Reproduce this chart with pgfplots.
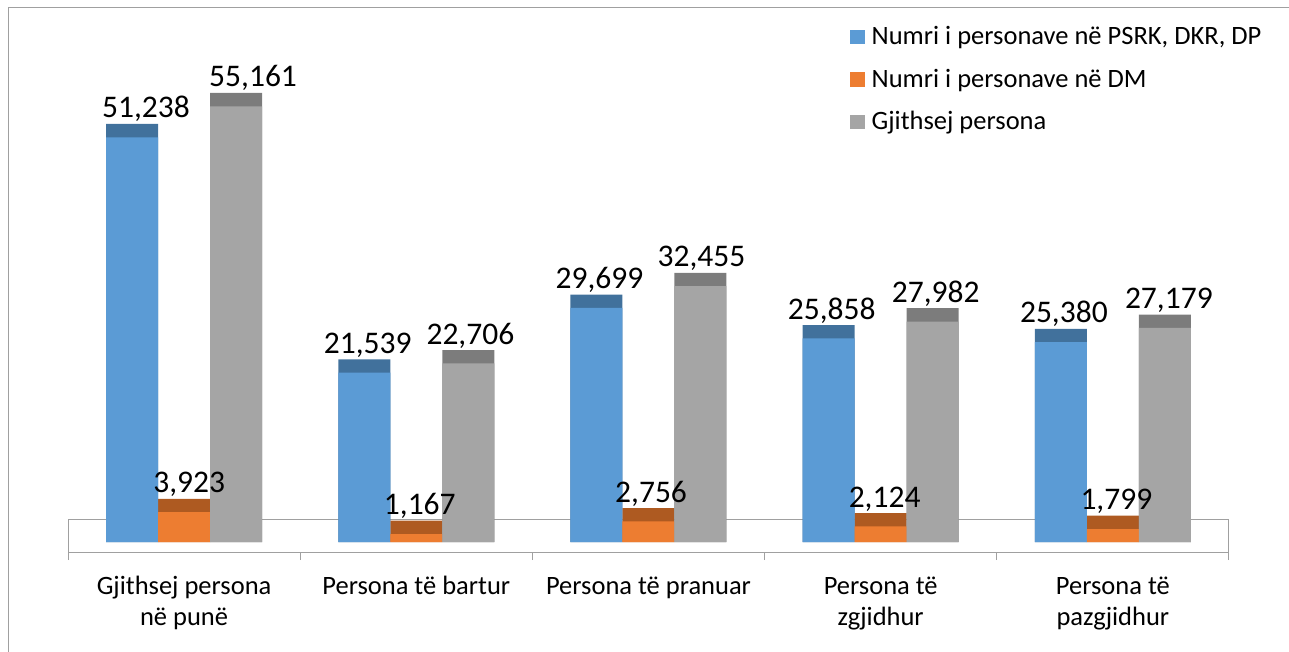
\documentclass[border=0pt]{standalone}
\usepackage{fontspec}
\setmainfont{Carlito}
\usepackage{pgfplots}
\pgfplotsset{compat=1.18}
\usepackage{pgfplotstable}

\definecolor{cblue}{HTML}{5B9BD5}
\definecolor{cbluedk}{HTML}{41719C}
\definecolor{corange}{HTML}{ED7D31}
\definecolor{corangedk}{HTML}{AE5A21}
\definecolor{cgray}{HTML}{A5A5A5}
\definecolor{cgraydk}{HTML}{7C7C7C}
\definecolor{linegray}{HTML}{A0A0A0}

\newcommand{\valfont}{\fontsize{31.5}{36}\selectfont}
\newcommand{\catfont}{\fontsize{26.5}{30.5}\selectfont}

% v = value, lx = x position of its label, lab = printed label
\pgfplotstableread{
x v lx lab
0 51238 -0.164 51,238
1 21539 0.791 21,539
2 29699 1.789 29,699
3 25858 2.789 25,858
4 25380 3.789 25,380
}\tblue
\pgfplotstableread{
x v lx lab
0 3923 0.022 3,923
1 1167 1.015 1,167
2 2756 2.011 2,756
3 2124 3.017 2,124
4 1799 4.015 1,799
}\torange
\pgfplotstableread{
x v lx lab
0 55161 0.297 55,161
1 22706 1.233 22,706
2 32455 2.228 32,455
3 27982 3.237 27,982
4 27179 4.241 27,179
}\tgray

\begin{document}
\begin{tikzpicture}
\useasboundingbox (0pt,0pt) rectangle (1289pt,-652pt);
\draw[linegray, line width=1.2pt] (8.5pt,-652pt) -- (8.5pt,-7.5pt) -- (1289pt,-7.5pt);
\begin{axis}[
  at={(68pt,-552pt)}, anchor=south west,
  scale only axis, width=1161pt, height=522pt,
  xmin=-0.5, xmax=4.5, ymin=-1262, ymax=64622,
  axis y line=none, axis x line*=bottom,
  axis line style={draw=linegray, line width=1pt},
  xtick={0,...,4},
  xticklabels={{\vphantom{h}Gjithsej persona\\në punë},{\vphantom{h}Persona të bartur},{\vphantom{h}Persona të pranuar},{\vphantom{h}Persona të\\zgjidhur},{\vphantom{h}Persona të\\pazgjidhur}},
  major tick length=0pt,
  minor xtick={-0.5,0.5,...,4.5},
  minor tick length=8pt, tick align=outside,
  minor tick style={draw=linegray, line width=1pt},
  xticklabel style={font=\catfont, align=center, anchor=north, inner sep=0pt, yshift=-24pt},
  clip=false,
  legend cell align=left,
  legend style={at={(0.67356,1.00192)}, anchor=north west, draw=none, fill=none,
    inner sep=0pt, outer sep=0pt, font=\catfont, row sep=26.5pt, column sep=6.7pt,
    nodes={inner sep=0pt, text height=16pt, text depth=0pt}},
]
% floor
\addplot[draw=linegray, line width=1pt, fill=white, forget plot] coordinates {(-0.5,-1262) (4.5,-1262) (4.5,2903) (-0.5,2903)} -- cycle;
% dark tops (full height)
\addplot[ybar, bar width=52pt, bar shift=-52pt, fill=cbluedk, draw=none, forget plot] table[x=x, y expr=\thisrow{v}+1527] {\tblue};
\addplot[ybar, bar width=52pt, bar shift=0pt, fill=corangedk, draw=none, forget plot] table[x=x, y expr=\thisrow{v}+1527] {\torange};
\addplot[ybar, bar width=52pt, bar shift=52pt, fill=cgraydk, draw=none, forget plot] table[x=x, y expr=\thisrow{v}+1527] {\tgray};
% faces
\addplot[ybar, bar width=52pt, bar shift=-52pt, fill=cblue, draw=none,
  legend image code/.code={\fill[cblue] (0pt,-7.3pt) rectangle (15pt,7.4pt);}] table[x=x, y expr=\thisrow{v}+1527-1691] {\tblue};
\addlegendentry{Numri i personave në PSRK, DKR, DP}
\addplot[ybar, bar width=52pt, bar shift=0pt, fill=corange, draw=none,
  legend image code/.code={\fill[corange] (0pt,-7.3pt) rectangle (15pt,7.4pt);}] table[x=x, y expr=\thisrow{v}+1527-1691] {\torange};
\addlegendentry{Numri i personave në DM}
\addplot[ybar, bar width=52pt, bar shift=52pt, fill=cgray, draw=none,
  legend image code/.code={\fill[cgray] (0pt,-7.3pt) rectangle (15pt,7.4pt);}] table[x=x, y expr=\thisrow{v}+1527-1691] {\tgray};
\addlegendentry{Gjithsej persona}
% value labels
\pgfplotsset{lblstyle/.style={draw=none, mark=none, forget plot, nodes near coords, point meta=explicit symbolic,
  nodes near coords style={anchor=base, yshift=6pt, font=\valfont, inner sep=0pt, text=black}}}
\addplot[lblstyle] table[x=lx, y expr=\thisrow{v}+1527, meta=lab] {\tblue};
\addplot[lblstyle] table[x=lx, y expr=\thisrow{v}+1527, meta=lab] {\torange};
\addplot[lblstyle] table[x=lx, y expr=\thisrow{v}+1527, meta=lab] {\tgray};
\end{axis}
\end{tikzpicture}
\end{document}
